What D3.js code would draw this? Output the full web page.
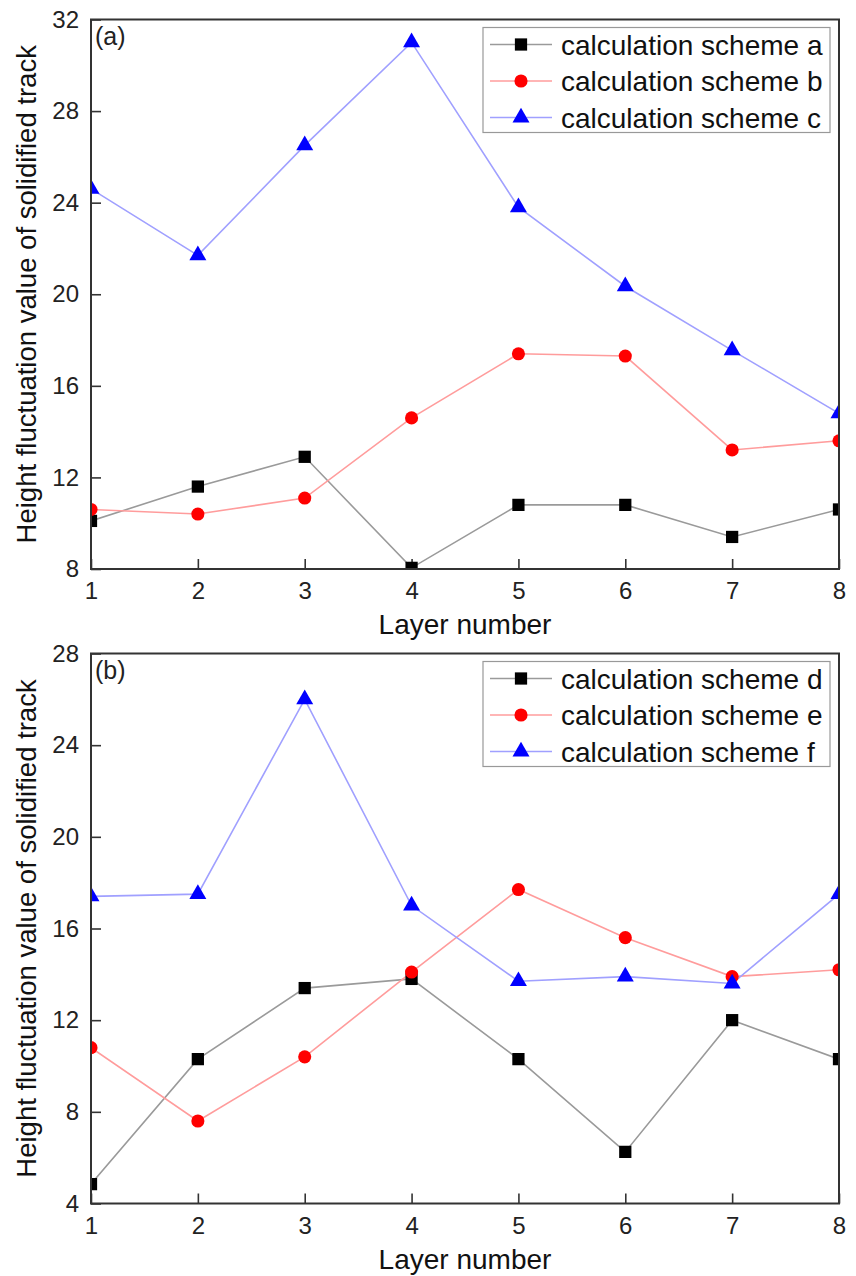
<!DOCTYPE html>
<html>
<head>
<meta charset="utf-8">
<script src="https://cdn.jsdelivr.net/npm/d3@7"></script>
<style>
  body { margin: 0; background: #fff; }
  svg { display: block; font-family: "Liberation Sans", Arial, sans-serif; }
</style>
</head>
<body>
<div id="chart"></div>
<script>
// layer numbers on x
var layers = [1, 2, 3, 4, 5, 6, 7, 8];

// panel (a)
var schemeA = [10.1, 11.6, 12.9, 8.05, 10.8, 10.8, 9.4, 10.6];
var schemeB = [10.6, 10.4, 11.1, 14.6, 17.4, 17.3, 13.2, 13.6];
var schemeC = [24.6, 21.7, 26.5, 31.0, 23.8, 20.35, 17.55, 14.8];
var ticksA = [8, 12, 16, 20, 24, 28, 32];

// panel (b)
var schemeD = [4.85, 10.3, 13.4, 13.8, 10.3, 6.25, 12.0, 10.3];
var schemeE = [10.8, 7.6, 10.4, 14.1, 17.7, 15.6, 13.9, 14.2];
var schemeF = [17.4, 17.5, 26.0, 17.0, 13.7, 13.9, 13.6, 17.5];
var ticksB = [4, 8, 12, 16, 20, 24, 28];

var namesA = ["calculation scheme a", "calculation scheme b", "calculation scheme c"];
var namesB = ["calculation scheme d", "calculation scheme e", "calculation scheme f"];

var styles = [
    { line: "#9a9a9a", fill: "#000000", shape: d3.symbolSquare, size: 150 },
    { line: "#ff9c9c", fill: "#ff0000", shape: d3.symbolCircle, size: 135 },
    { line: "#a0a0ff", fill: "#0000ff", shape: d3.symbolTriangle, size: 125 }
];

var W = 856, H = 1276;
var svg = d3.select("#chart").append("svg").attr("width", W).attr("height", H);

var left = 91, right = 839;
var x = d3.scaleLinear().domain([1, 8]).range([left, right]);

function panel(id, top, bottom, ticks, series, names, label) {
    var y = d3.scaleLinear().domain([ticks[0], ticks[ticks.length - 1]]).range([bottom, top]);
    var g = svg.append("g");

    g.append("clipPath").attr("id", "clip" + id)
        .append("rect")
        .attr("x", left).attr("y", top)
        .attr("width", right - left).attr("height", bottom - top);

    // axes with inward ticks
    var ax = g.append("g").attr("transform", "translate(0," + bottom + ")")
        .call(d3.axisBottom(x).tickValues(layers).tickFormat(d3.format("d")).tickSize(-10).tickPadding(13));
    var ay = g.append("g").attr("transform", "translate(" + left + ",0)")
        .call(d3.axisLeft(y).tickValues(ticks).tickSize(-10).tickPadding(12));
    [ax, ay].forEach(function (a) {
        a.select(".domain").remove();
        a.selectAll(".tick line").attr("stroke", "#333").attr("stroke-width", 1.6);
        a.selectAll(".tick text").attr("fill", "#222").style("font-size", "24px");
    });

    var plot = g.append("g").attr("clip-path", "url(#clip" + id + ")");
    var line = d3.line().x(function (d, i) { return x(layers[i]); }).y(function (d) { return y(d); });

    series.forEach(function (s, k) {
        plot.append("path").datum(s)
            .attr("d", line)
            .attr("fill", "none")
            .attr("stroke", styles[k].line)
            .attr("stroke-width", 1.6);
    });
    series.forEach(function (s, k) {
        plot.selectAll(".m" + k).data(s).enter().append("path")
            .attr("transform", function (d, i) { return "translate(" + x(layers[i]) + "," + y(d) + ")"; })
            .attr("d", d3.symbol().type(styles[k].shape).size(styles[k].size))
            .attr("fill", styles[k].fill);
    });

    // frame
    g.append("rect")
        .attr("x", left).attr("y", top)
        .attr("width", right - left).attr("height", bottom - top)
        .attr("fill", "none").attr("stroke", "#333").attr("stroke-width", 2);

    g.append("text")
        .attr("x", left + 4).attr("y", top + 25)
        .style("font-size", "25px").attr("fill", "#222")
        .text(label);

    // legend
    var lg = g.append("g").attr("transform", "translate(" + (left + 392) + "," + (top + 8) + ")");
    lg.append("rect")
        .attr("width", 347).attr("height", 105)
        .attr("fill", "#fff").attr("stroke", "#999").attr("stroke-width", 1.2);
    names.forEach(function (n, k) {
        var ry = 17 + k * 36.5;
        lg.append("line")
            .attr("x1", 7).attr("x2", 69).attr("y1", ry).attr("y2", ry)
            .attr("stroke", styles[k].line).attr("stroke-width", 1.6);
        lg.append("path")
            .attr("transform", "translate(38," + ry + ")")
            .attr("d", d3.symbol().type(styles[k].shape).size(styles[k].size))
            .attr("fill", styles[k].fill);
        lg.append("text")
            .attr("x", 78).attr("y", ry)
            .attr("dy", "0.36em")
            .style("font-size", "28px").attr("fill", "#111")
            .text(n);
    });

    // axis titles
    g.append("text")
        .attr("x", (left + right) / 2).attr("y", bottom + 65)
        .attr("text-anchor", "middle")
        .style("font-size", "28px").attr("fill", "#111")
        .text("Layer number");

    g.append("text")
        .attr("transform", "translate(26," + ((top + bottom) / 2) + ") rotate(-90)")
        .attr("text-anchor", "middle")
        .attr("dy", "0.36em")
        .style("font-size", "27.5px").attr("fill", "#111")
        .text("Height fluctuation value of solidified track");
}

panel("a", 19.5, 569, ticksA, [schemeA, schemeB, schemeC], namesA, "(a)");
panel("b", 653.5, 1203.5, ticksB, [schemeD, schemeE, schemeF], namesB, "(b)");
</script>
</body>
</html>
